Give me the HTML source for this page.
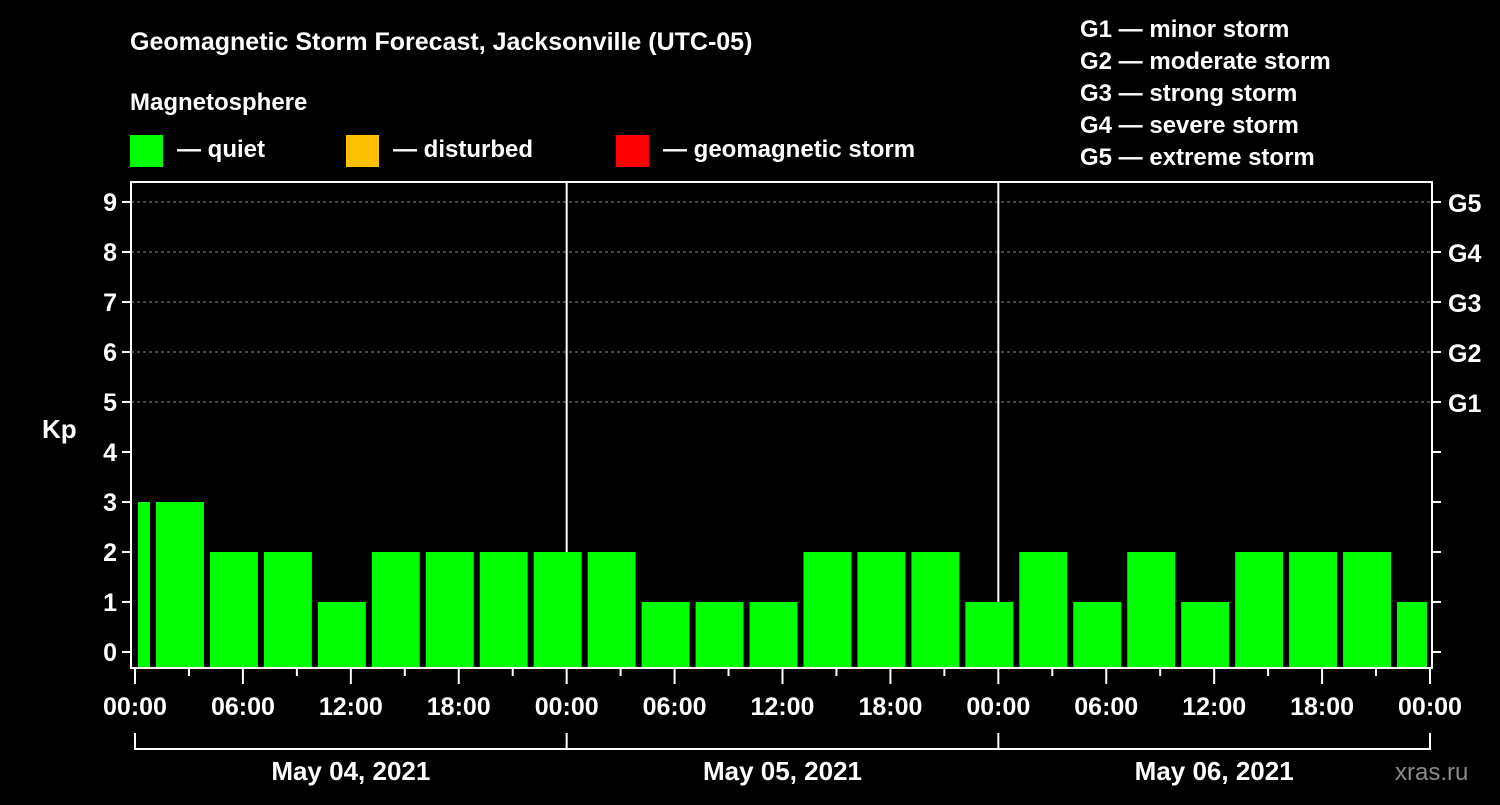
<!DOCTYPE html>
<html><head><meta charset="utf-8"><style>
body{margin:0;background:#000;width:1500px;height:800px;overflow:hidden}
text{font-family:"Liberation Sans",sans-serif;font-weight:bold;fill:#fff}
</style></head><body>
<svg id="chart" width="1500" height="800" xmlns="http://www.w3.org/2000/svg">
<rect width="1500" height="800" fill="#000"/>
<text x="130" y="50" font-size="25">Geomagnetic Storm Forecast, Jacksonville (UTC-05)</text>
<text x="130" y="110" font-size="24">Magnetosphere</text>
<g>
<rect x="130" y="135" width="33" height="32" fill="#00ff00"/>
<text x="177" y="157" font-size="24">— quiet</text>
<rect x="346" y="135" width="33" height="32" fill="#ffc000"/>
<text x="393" y="157" font-size="24">— disturbed</text>
<rect x="616" y="135" width="33" height="32" fill="#ff0000"/>
<text x="663" y="157" font-size="24">— geomagnetic storm</text>
</g>
<g font-size="24">
<text x="1080" y="37">G1 — minor storm</text>
<text x="1080" y="69">G2 — moderate storm</text>
<text x="1080" y="101">G3 — strong storm</text>
<text x="1080" y="133">G4 — severe storm</text>
<text x="1080" y="165">G5 — extreme storm</text>
</g>
<text x="42" y="438" font-size="26">Kp</text>
<g id="grid"></g><g id="bars"></g><g id="axes"></g>
<text x="1395" y="780" font-size="24" fill="#888" style="fill:#8a8a8a;font-weight:normal">xras.ru</text>
</svg>
<script>
const kpValues=[3,3,2,2,1,2,2,2,2,2,1,1,1,2,2,2,1,2,1,2,1,2,2,2,1];
const barStartHours=[0,1,4,7,10,13,16,19,22,25,28,31,34,37,40,43,46,49,52,55,58,61,64,67,70];
const barEndHours=[1,4,7,10,13,16,19,22,25,28,31,34,37,40,43,46,49,52,55,58,61,64,67,70,72];
const yTicks=[0,1,2,3,4,5,6,7,8,9];
const gLabels=["G1","G2","G3","G4","G5"];
const gLevels=[5,6,7,8,9];
const xTickLabels=["00:00","06:00","12:00","18:00","00:00","06:00","12:00","18:00","00:00","06:00","12:00","18:00","00:00"];
const dayLabels=["May 04, 2021","May 05, 2021","May 06, 2021"];
const NS="http://www.w3.org/2000/svg";
const L=131,R=1432,T=182,B=668;
const x=h=>135+h*(1430-135)/72;
const y=v=>652-v*50;
function mk(tag,parent,at){const e=document.createElementNS(NS,tag);for(const k in at)e.setAttribute(k,at[k]);document.getElementById(parent).appendChild(e);return e;}
// grid
gLevels.forEach(v=>{const e=mk('line','grid',{x1:L,x2:R,y1:y(v),y2:y(v),stroke:'#888','stroke-dasharray':'3,3','stroke-width':1});

});
[24,48].forEach(h=>{const e=mk('line','grid',{x1:x(h),x2:x(h),y1:T,y2:B,stroke:'#fff','stroke-width':2});

});
// bars
kpValues.forEach((v,i)=>{const x0=x(barStartHours[i])+3,x1=x(barEndHours[i])-3;
const col=v>=5?'#ff0000':(v>=4?'#ffc000':'#00ff00');
const e=mk('rect','bars',{x:x0,y:y(v),width:x1-x0,height:B-y(v),fill:col});

});
// axes frame
const f=mk('rect','axes',{x:L,y:T,width:R-L,height:B-T,fill:'none',stroke:'#fff','stroke-width':2});


yTicks.forEach(v=>{
 mk('line','axes',{x1:L-9,x2:L,y1:y(v),y2:y(v),stroke:'#fff','stroke-width':2});
 mk('line','axes',{x1:R,x2:R+9,y1:y(v),y2:y(v),stroke:'#fff','stroke-width':2});
 const t=mk('text','axes',{x:L-14,y:y(v)+9,'font-size':25,'text-anchor':'end'});t.textContent=v;
 
 });
gLabels.forEach((g,i)=>{const t=mk('text','axes',{x:1448,y:y(gLevels[i])+10,'font-size':25});t.textContent=g;
 
 });
for(let h=0;h<=72;h+=3){const major=h%6==0;mk('line','axes',{x1:x(h),x2:x(h),y1:B,y2:B+(major?16:8),stroke:'#fff','stroke-width':2});}
xTickLabels.forEach((s,i)=>{const t=mk('text','axes',{x:x(i*6),y:715,'font-size':25,'text-anchor':'middle'});t.textContent=s;
 
 });
mk('line','axes',{x1:x(0),x2:x(72),y1:749,y2:749,stroke:'#fff','stroke-width':2});
[0,24,48,72].forEach(h=>mk('line','axes',{x1:x(h),x2:x(h),y1:733,y2:750,stroke:'#fff','stroke-width':2}));
dayLabels.forEach((s,i)=>{const t=mk('text','axes',{x:x(i*24+12),y:780,'font-size':26,'text-anchor':'middle'});t.textContent=s;
 
 });
</script>
</body></html>
